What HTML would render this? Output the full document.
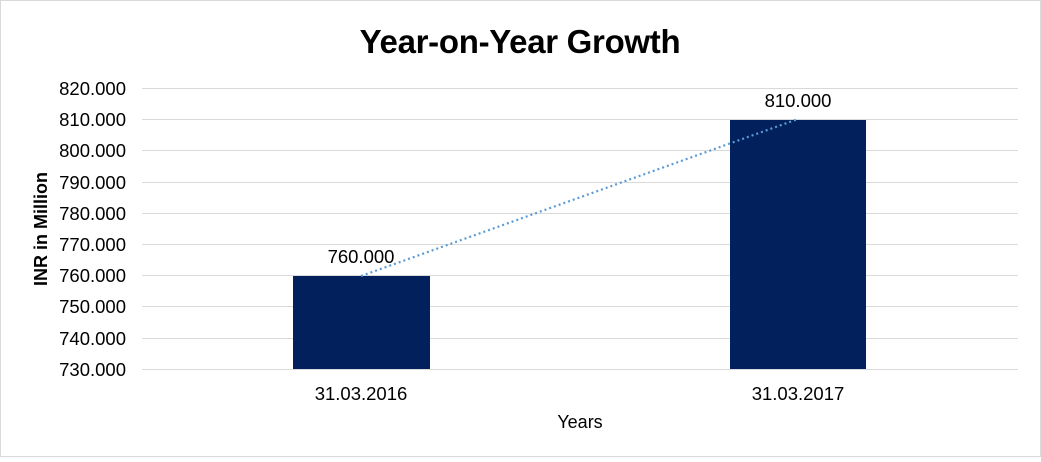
<!DOCTYPE html>
<html><head><style>
body{margin:0;background:#fff}
svg text{font-family:"Liberation Sans",Arial,sans-serif}
</style></head><body>
<svg width="1041" height="457" viewBox="0 0 1041 457" xmlns="http://www.w3.org/2000/svg">
<rect x="0.5" y="0.5" width="1040" height="456" fill="#fff" stroke="#d9d9d9"/>
<text x="520" y="53" text-anchor="middle" font-size="33" font-weight="bold" fill="#000" letter-spacing="-0.3">Year-on-Year Growth</text>
<g stroke="#d9d9d9" stroke-width="1">
<line x1="142" x2="1018" y1="88.5" y2="88.5"/>
<line x1="142" x2="1018" y1="119.5" y2="119.5"/>
<line x1="142" x2="1018" y1="150.5" y2="150.5"/>
<line x1="142" x2="1018" y1="182.5" y2="182.5"/>
<line x1="142" x2="1018" y1="213.5" y2="213.5"/>
<line x1="142" x2="1018" y1="244.5" y2="244.5"/>
<line x1="142" x2="1018" y1="275.5" y2="275.5"/>
<line x1="142" x2="1018" y1="306.5" y2="306.5"/>
<line x1="142" x2="1018" y1="338.5" y2="338.5"/>
<line x1="142" x2="1018" y1="369.5" y2="369.5"/>
</g>
<g font-size="18.5" fill="#000" text-anchor="end">
<text x="126" y="95">820.000</text>
<text x="126" y="126">810.000</text>
<text x="126" y="157">800.000</text>
<text x="126" y="189">790.000</text>
<text x="126" y="220">780.000</text>
<text x="126" y="251">770.000</text>
<text x="126" y="282">760.000</text>
<text x="126" y="313">750.000</text>
<text x="126" y="345">740.000</text>
<text x="126" y="376">730.000</text>
</g>
<text transform="translate(47,229) rotate(-90)" text-anchor="middle" font-size="18" font-weight="bold">INR in Million</text>
<rect x="293" y="276" width="137" height="93" fill="#02205c"/>
<rect x="730" y="120" width="136" height="249" fill="#02205c"/>
<line x1="361" y1="276" x2="798" y2="119" stroke="#5b9bd5" stroke-width="2.2" stroke-dasharray="2 3"/>
<text x="361" y="263" text-anchor="middle" font-size="18.5">760.000</text>
<text x="798" y="107" text-anchor="middle" font-size="18.5">810.000</text>
<text x="361" y="400" text-anchor="middle" font-size="18.5">31.03.2016</text>
<text x="798" y="400" text-anchor="middle" font-size="18.5">31.03.2017</text>
<text x="580" y="428" text-anchor="middle" font-size="18">Years</text>
</svg>
</body></html>
